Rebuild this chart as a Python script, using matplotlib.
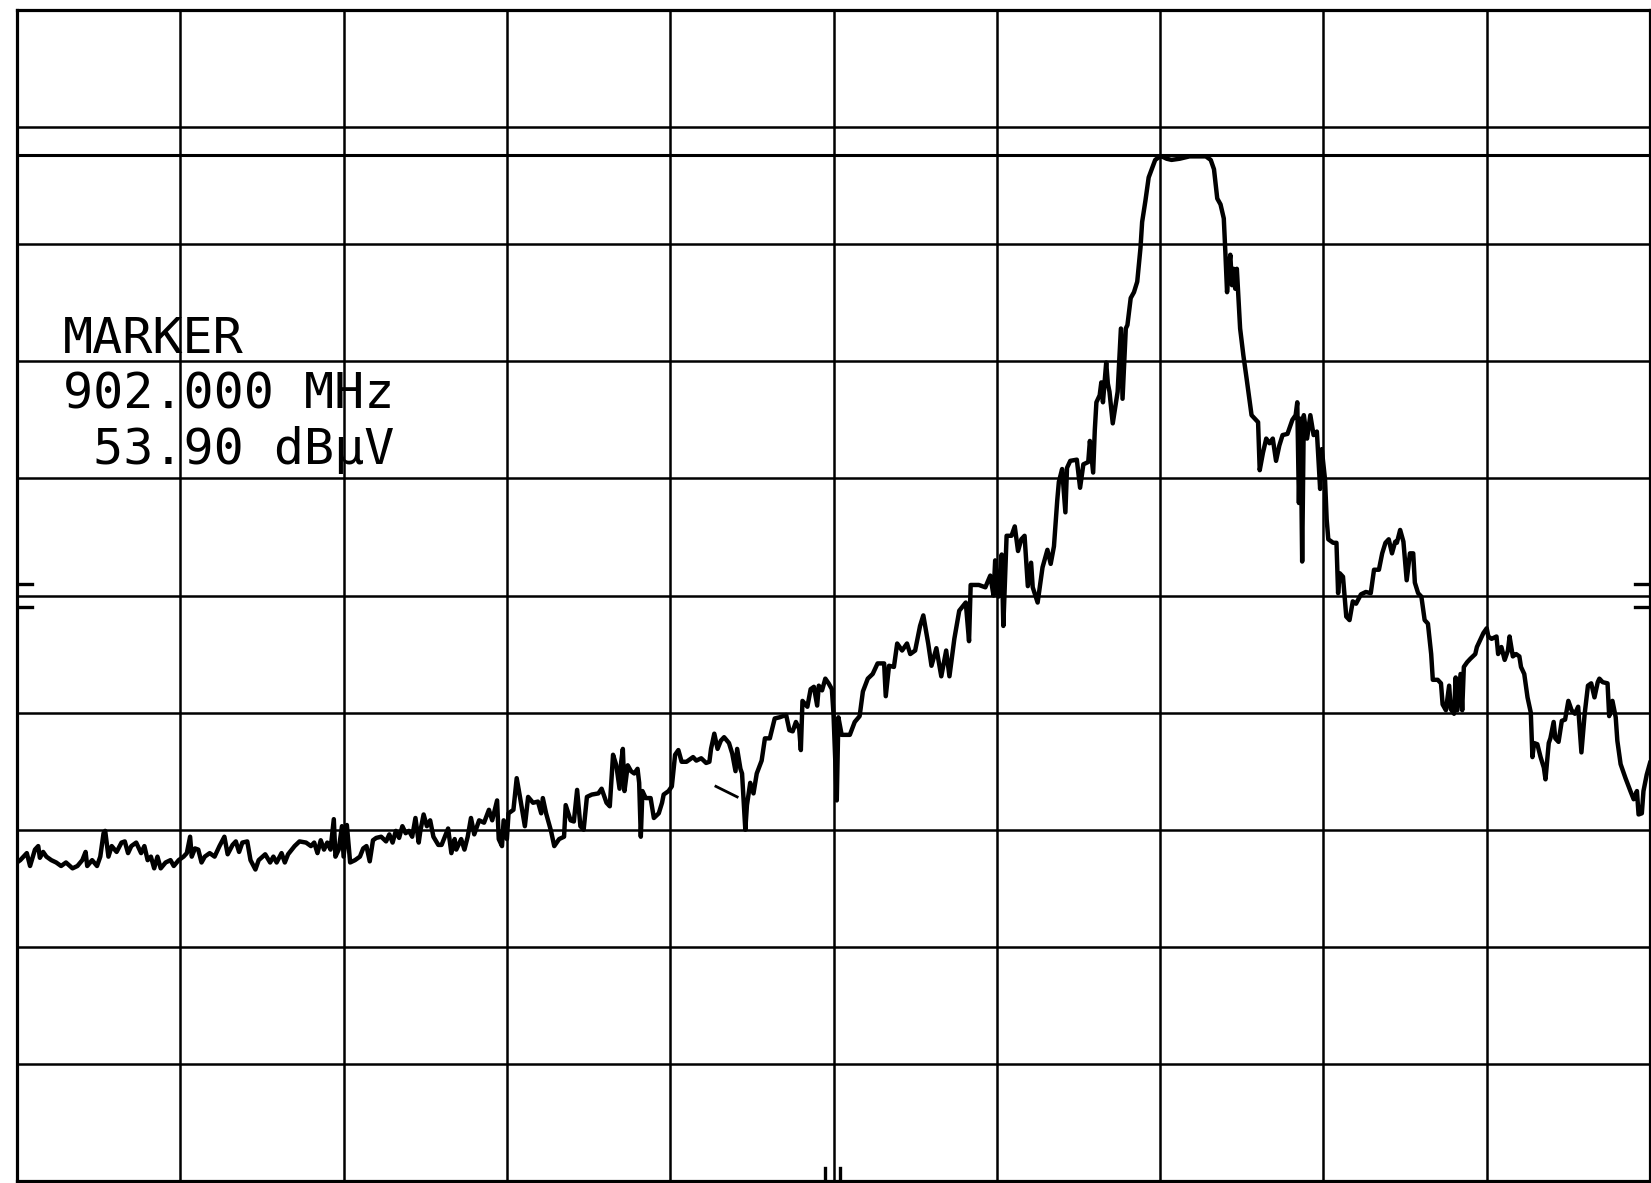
import matplotlib.pyplot as plt

# trace, x and y in graticule divisions (10 x 10)
freq_div = [
    0.00, 0.02, 0.06, 0.08, 0.11, 0.13, 0.14, 0.16, 0.18, 0.21, 0.24, 0.27, 0.30, 0.34, 0.37, 0.40,
    0.42, 0.43, 0.46, 0.49, 0.51, 0.53, 0.54, 0.56, 0.58, 0.61, 0.64, 0.66, 0.68, 0.70, 0.73, 0.76,
    0.78, 0.80, 0.82, 0.84, 0.86, 0.88, 0.91, 0.94, 0.96, 0.99, 1.02, 1.04, 1.06, 1.07, 1.09, 1.11,
    1.13, 1.15, 1.18, 1.21, 1.24, 1.27, 1.29, 1.32, 1.34, 1.36, 1.38, 1.41, 1.43, 1.46, 1.48, 1.52,
    1.55, 1.57, 1.59, 1.62, 1.64, 1.66, 1.70, 1.73, 1.77, 1.80, 1.82, 1.84, 1.86, 1.88, 1.90, 1.92,
    1.94, 1.95, 1.97, 1.99, 2.00, 2.02, 2.04, 2.07, 2.10, 2.12, 2.14, 2.16, 2.18, 2.20, 2.23, 2.26,
    2.28, 2.30, 2.32, 2.34, 2.36, 2.38, 2.40, 2.42, 2.44, 2.46,
    2.47, 2.49, 2.51, 2.53, 2.55, 2.58, 2.60, 2.64, 2.66, 2.68, 2.69, 2.72, 2.74, 2.76, 2.78, 2.80,
    2.83, 2.86, 2.89, 2.91, 2.94, 2.95, 2.97, 2.98, 3.00, 3.01, 3.04, 3.06, 3.08, 3.11, 3.13, 3.16,
    3.19, 3.21, 3.22, 3.24, 3.27, 3.29, 3.32, 3.35, 3.36, 3.39, 3.41, 3.43, 3.45, 3.47, 3.49, 3.52,
    3.56, 3.58, 3.61, 3.63, 3.65, 3.67, 3.69, 3.70, 3.71, 3.72, 3.74, 3.76, 3.78, 3.80, 3.81, 3.82,
    3.83, 3.85, 3.88, 3.90, 3.93, 3.95, 3.96, 3.99, 4.01, 4.03, 4.05, 4.07, 4.10, 4.14, 4.16, 4.19,
    4.22, 4.24, 4.25, 4.27, 4.29, 4.31, 4.33, 4.36, 4.38, 4.40, 4.41, 4.43, 4.44, 4.46, 4.47, 4.49,
    4.51, 4.53, 4.56, 4.58, 4.61, 4.64, 4.67, 4.71, 4.73, 4.75, 4.77, 4.79, 4.80, 4.81, 4.84, 4.86,
    4.88, 4.90, 4.91, 4.93, 4.95, 4.97,
    4.99, 5.00, 5.02, 5.03, 5.05, 5.10, 5.13, 5.16, 5.18, 5.21, 5.24, 5.27, 5.31, 5.32, 5.34, 5.37,
    5.39, 5.42, 5.45, 5.47, 5.50, 5.53, 5.55, 5.58, 5.60, 5.63, 5.66, 5.69, 5.71, 5.74, 5.77, 5.81,
    5.83, 5.84, 5.89, 5.93, 5.96, 5.98, 5.99,
    6.01, 6.03, 6.04, 6.06, 6.09, 6.11, 6.13, 6.15, 6.17, 6.19, 6.21, 6.22, 6.25, 6.28, 6.31, 6.33,
    6.35, 6.37, 6.38, 6.40, 6.42, 6.43, 6.45, 6.49, 6.51, 6.53, 6.56, 6.57, 6.59, 6.60, 6.61, 6.63,
    6.64, 6.65, 6.67, 6.68, 6.69, 6.71, 6.74, 6.76, 6.77, 6.79, 6.80, 6.82, 6.84, 6.86, 6.88, 6.89,
    6.91, 6.93, 6.97, 6.99, 7.01, 7.04, 7.07, 7.12, 7.18, 7.22, 7.28, 7.31, 7.33, 7.35, 7.37, 7.39,
    7.40, 7.41, 7.42, 7.43, 7.44, 7.45, 7.46, 7.47, 7.49, 7.51, 7.53, 7.56,
    7.60, 7.61, 7.63, 7.65, 7.67, 7.69, 7.71, 7.73, 7.75, 7.78, 7.81, 7.83, 7.84, 7.85, 7.86, 7.87,
    7.88, 7.90, 7.92, 7.94, 7.96, 7.98, 7.99, 8.01, 8.02, 8.03, 8.06, 8.08, 8.09, 8.10, 8.12, 8.14,
    8.16, 8.18, 8.20, 8.23, 8.26, 8.29, 8.31, 8.34, 8.36, 8.38, 8.40, 8.42, 8.44, 8.45, 8.47, 8.49,
    8.51, 8.53, 8.55, 8.56, 8.58, 8.60, 8.62, 8.64, 8.66, 8.67, 8.70, 8.72, 8.73, 8.75, 8.77, 8.78,
    8.80, 8.81, 8.82, 8.84, 8.85, 8.86, 8.88, 8.90, 8.93, 8.94, 8.96, 8.98, 9.00, 9.01, 9.03, 9.06,
    9.07, 9.09, 9.11, 9.13, 9.14, 9.16, 9.18, 9.20, 9.21, 9.23, 9.25, 9.27, 9.28, 9.29, 9.31, 9.33,
    9.35, 9.36, 9.38, 9.39, 9.41, 9.42, 9.44, 9.46, 9.48, 9.50, 9.52, 9.54, 9.56, 9.58, 9.60, 9.62,
    9.64, 9.66, 9.68, 9.69, 9.71, 9.74, 9.75, 9.77, 9.79, 9.80, 9.82, 9.85, 9.88, 9.90, 9.92, 9.93,
    9.95, 9.96, 9.98, 10.00,
]
level_div = [
    2.72, 2.74, 2.80, 2.69, 2.83, 2.86, 2.76, 2.81, 2.77, 2.74, 2.72, 2.69, 2.72, 2.67, 2.69, 2.74,
    2.81, 2.69, 2.74, 2.69, 2.77, 2.97, 2.99, 2.77, 2.86, 2.81, 2.89, 2.90, 2.80, 2.86, 2.89, 2.80,
    2.86, 2.74, 2.77, 2.67, 2.77, 2.67, 2.72, 2.74, 2.69, 2.74, 2.77, 2.80, 2.94, 2.77, 2.84, 2.83,
    2.72, 2.77, 2.80, 2.77, 2.86, 2.94, 2.79, 2.87, 2.90, 2.81, 2.89, 2.90, 2.74, 2.66, 2.74, 2.79,
    2.72, 2.77, 2.72, 2.80, 2.72, 2.79, 2.86, 2.90, 2.89, 2.86, 2.89, 2.80, 2.91, 2.83, 2.89, 2.83,
    3.09, 2.77, 2.83, 3.03, 2.77, 3.04, 2.72, 2.74, 2.77, 2.84, 2.86, 2.73, 2.91, 2.93, 2.94, 2.90,
    2.96, 2.89, 2.99, 2.93, 3.03, 2.97, 2.99, 2.94, 3.10, 2.89,
    2.99, 3.13, 3.03, 3.08, 2.94, 2.87, 2.87, 3.01, 2.80, 2.92, 2.83, 2.92, 2.83, 2.94, 3.10, 2.96,
    3.08, 3.06, 3.17, 3.08, 3.25, 2.92, 2.86, 3.08, 2.92, 3.14, 3.17, 3.44, 3.28, 3.03, 3.28, 3.23,
    3.24, 3.14, 3.27, 3.14, 2.99, 2.86, 2.92, 2.94, 3.21, 3.08, 3.07, 3.34, 3.03, 3.00, 3.28, 3.30,
    3.31, 3.35, 3.23, 3.20, 3.64, 3.55, 3.35, 3.58, 3.69, 3.33, 3.55, 3.50, 3.48, 3.52, 3.40, 2.94,
    3.33, 3.27, 3.27, 3.10, 3.14, 3.23, 3.30, 3.33, 3.37, 3.64, 3.68, 3.58, 3.58, 3.62, 3.59, 3.61,
    3.57, 3.58, 3.69, 3.82, 3.69, 3.76, 3.79, 3.74, 3.65, 3.50, 3.69, 3.52, 3.48, 3.00, 3.21, 3.40,
    3.31, 3.48, 3.59, 3.78, 3.78, 3.95, 3.96, 3.98, 3.85, 3.84, 3.92, 3.86, 3.68, 4.10, 4.05, 4.20,
    4.22, 4.06, 4.23, 4.19, 4.29, 4.25,
    4.20, 3.99, 3.25, 3.96, 3.81, 3.81, 3.92, 3.97, 4.18, 4.29, 4.33, 4.42, 4.42, 4.14, 4.40, 4.39,
    4.59, 4.53, 4.59, 4.50, 4.53, 4.74, 4.83, 4.59, 4.40, 4.55, 4.31, 4.53, 4.31, 4.63, 4.87, 4.94,
    4.61, 5.09, 5.09, 5.07, 5.17, 5.00, 5.30,
    4.99, 5.35, 4.74, 5.51, 5.51, 5.59, 5.38, 5.48, 5.51, 5.08, 5.28, 5.07, 4.94, 5.24, 5.39, 5.27,
    5.42, 5.81, 5.97, 6.08, 5.71, 6.09, 6.15, 6.16, 5.92, 6.12, 6.14, 6.32, 6.05, 6.41, 6.65, 6.71,
    6.82, 6.65, 6.99, 6.81, 6.74, 6.47, 6.74, 7.28, 6.68, 7.28, 7.31, 7.54, 7.59, 7.68, 7.97, 8.19,
    8.37, 8.57, 8.72, 8.74, 8.75, 8.73, 8.72, 8.73, 8.75, 8.75, 8.75, 8.72, 8.64, 8.39, 8.34, 8.22,
    7.92, 7.59, 7.79, 7.91, 7.65, 7.79, 7.62, 7.79, 7.28, 7.05, 6.85, 6.54,
    6.48, 6.07, 6.22, 6.34, 6.30, 6.34, 6.15, 6.28, 6.37, 6.38, 6.50, 6.54, 6.65, 5.79, 6.51, 5.29,
    6.54, 6.34, 6.54, 6.37, 6.40, 5.91, 6.25, 5.99, 5.65, 5.48, 5.45, 5.45, 5.02, 5.19, 5.16, 4.82,
    4.79, 4.95, 4.93, 5.01, 5.03, 5.02, 5.22, 5.22, 5.36, 5.45, 5.48, 5.36, 5.46, 5.45, 5.56, 5.46,
    5.13, 5.36, 5.36, 5.11, 5.02, 4.99, 4.79, 4.76, 4.50, 4.28, 4.28, 4.25, 4.07, 4.02, 4.23, 4.03,
    3.99, 4.30, 4.02, 4.33, 4.02, 4.39, 4.43, 4.46, 4.50, 4.56, 4.62, 4.68, 4.72, 4.65, 4.63, 4.65,
    4.50, 4.56, 4.45, 4.53, 4.65, 4.48, 4.50, 4.48, 4.39, 4.33, 4.13, 4.00, 3.62, 3.74, 3.73, 3.62,
    3.53, 3.43, 3.74, 3.78, 3.92, 3.78, 3.75, 3.93, 3.94, 4.10, 4.02, 3.99, 4.05, 3.66, 3.99, 4.23,
    4.25, 4.13, 4.26, 4.29, 4.26, 4.25, 3.97, 4.10, 3.96, 3.76, 3.56, 3.44, 3.33, 3.26, 3.33, 3.13,
    3.14, 3.33, 3.47, 3.57,
]

display_line = 8.765      # horizontal line the clipped peak sits on
marker_pos = 5.0          # marker at centre frequency
ref_ticks = [4.9, 5.1]    # small "=" marks on both side edges
marker_lines = ["MARKER", "902.000 MHz", " 53.90 dB\u03bcV"]
text_rows = [7.07, 6.60, 6.12]

fig = plt.figure(figsize=(16.51, 11.83), dpi=100)
ax = fig.add_axes([17 / 1651, 2 / 1183, 1633 / 1651, 1171 / 1183])
ax.set_xlim(0, 10)
ax.set_ylim(0, 10)
ax.set_xticks(range(11))
ax.set_yticks(range(11))
ax.grid(True, color='black', linewidth=1.8)
ax.tick_params(length=0, labelbottom=False, labelleft=False)
for sp in ax.spines.values():
    sp.set_linewidth(2.3)

ax.axhline(display_line, color='black', linewidth=2.2)

# the trace
ax.plot(freq_div, level_div, color='black', linewidth=3.2,
        solid_joinstyle='round', zorder=3)

# small stroke left by the marker symbol
ax.plot([4.28, 4.41], [3.37, 3.28], color='black', linewidth=2.0)

# marker position ticks on the bottom edge
for dx in (-0.05, 0.04):
    ax.plot([marker_pos + dx] * 2, [0, 0.11], color='black', linewidth=2.4)

# reference marks on the left and right edges
for y in ref_ticks:
    ax.plot([0, 0.09], [y, y], color='black', linewidth=2.4)
    ax.plot([9.91, 10], [y, y], color='black', linewidth=2.4)

for line, row in zip(marker_lines, text_rows):
    ax.text(0.28, row, line, fontsize=36, family='DejaVu Sans Mono',
            ha='left', va='baseline', color='black')

fig.savefig('out.png', dpi=100)
